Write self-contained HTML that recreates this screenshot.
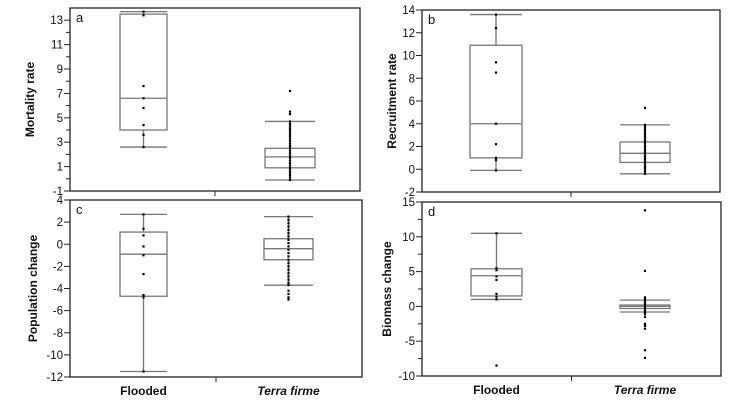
<!DOCTYPE html>
<html><head><meta charset="utf-8"><style>
body{margin:0;background:#fff;width:737px;height:406px;overflow:hidden;font-family:"Liberation Sans",sans-serif}
</style></head><body>
<svg id="c" width="737" height="406"></svg>
<script>
// Panel data
const categories=["Flooded","Terra firme"];
const aStats=[[2.6,4.0,6.6,13.5,13.7],[-0.1,0.9,1.8,2.5,4.7]];
const aPts=[[13.7,13.4,7.6,6.6,5.8,4.4,3.6,2.6],[7.2,5.5,5.3,4.7,4.5,4.3,4.1,3.9,3.7,3.5,3.3,3.1,2.9,2.7,2.5,2.3,2.1,1.9,1.7,1.5,1.3,1.1,0.9,0.7,0.5,0.3,0.1,-0.1]];
const bStats=[[-0.1,1.0,4.0,10.9,13.6],[-0.4,0.6,1.4,2.4,3.9]];
const bPts=[[13.6,12.4,9.4,8.5,4.0,2.2,1.0,0.8,-0.1],[5.4,3.9,3.7,3.5,3.3,3.1,2.9,2.7,2.5,2.3,2.1,1.9,1.7,1.5,1.3,1.1,0.9,0.7,0.5,0.3,0.1,-0.1,-0.3,-0.4]];
const cStats=[[-11.5,-4.7,-0.9,1.1,2.7],[-3.7,-1.4,-0.4,0.5,2.5]];
const cPts=[[2.7,1.4,0.8,-0.2,-1.0,-2.7,-4.6,-4.8,-11.5],[2.5,2.2,1.9,1.6,1.3,1.0,0.7,0.4,0.1,-0.2,-0.5,-0.8,-1.1,-1.4,-1.7,-2.0,-2.3,-2.6,-2.9,-3.2,-3.5,-3.7,-4.2,-4.5,-4.8,-5.0]];
const dStats=[[1.0,1.5,4.4,5.4,10.5],[-0.8,-0.3,0.0,0.2,0.9]];
const dPts=[[10.5,5.5,5.2,4.3,3.8,1.8,1.4,1.0,-8.5],[13.8,5.1,1.3,1.0,0.7,0.4,0.1,-0.2,-0.5,-0.8,-1.1,-1.5,-2.5,-2.8,-3.2,-6.3,-7.4]];
const aTicks=[-1,1,3,5,7,9,11,13];
const bTicks=[-2,0,2,4,6,8,10,12,14];
const cTicks=[-12,-10,-8,-6,-4,-2,0,2,4];
const dTicks=[-10,-5,0,5,10,15];

const svg=document.getElementById('c');
const NS='http://www.w3.org/2000/svg';
function mk(t,a,p){const e=document.createElementNS(NS,t);for(const k in a)e.setAttribute(k,a[k]);(p||svg).appendChild(e);return e;}

const panels=[
 {id:'a',title:'Mortality rate',L:70,R:360,T:8,B:191,min:-1,max:14,ticks:aTicks,minor:1,stats:aStats,pts:aPts,bx:[120,265],bw:[47,50],xlab:false,tx:34},
 {id:'b',title:'Recruitment rate',L:422,R:720,T:10,B:192,min:-2,max:14,ticks:bTicks,minor:0,stats:bStats,pts:bPts,bx:[470,620],bw:[52,50],xlab:false,tx:396},
 {id:'c',title:'Population change',L:70,R:362,T:200,B:377,min:-12,max:4,ticks:cTicks,minor:0,stats:cStats,pts:cPts,bx:[120,264],bw:[47,49],xlab:true,tx:37},
 {id:'d',title:'Biomass change',L:422,R:721,T:202,B:376,min:-10,max:15,ticks:dTicks,minor:2.5,stats:dStats,pts:dPts,bx:[471,620],bw:[51,50],xlab:true,tx:391}
];
panels.forEach(p=>{
 const g=mk('g',{});
 
 
 const y=v=>p.B-(v-p.min)/(p.max-p.min)*(p.B-p.T);
 const fr=mk('rect',{x:p.L,y:p.T,width:p.R-p.L,height:p.B-p.T,fill:'none',stroke:'#222','stroke-width':1.3},g);
 
 
 p.ticks.forEach(t=>{
  mk('line',{x1:p.L-6,x2:p.L,y1:y(t),y2:y(t),stroke:'#222'},g);
  const tx=mk('text',{x:p.L-7,y:y(t)+4,'text-anchor':'end','font-size':11.5,fill:'#111'},g);
  tx.textContent=t;
  
  
  if(p.minor){const m=t+p.minor;if(m<p.max)mk('line',{x1:p.L-4,x2:p.L,y1:y(m),y2:y(m),stroke:'#222'},g);}
 });
 const mid=(p.L+p.R)/2;
 mk('line',{x1:mid,x2:mid,y1:p.B,y2:p.B+5,stroke:'#222'},g);
 const lt=mk('text',{x:p.L+6,y:p.T+14,'font-size':13,fill:'#111'},g);lt.textContent=p.id;
 
 
 const cy=(p.T+p.B)/2,cx=p.tx;
 const at=mk('text',{x:cx,y:cy,transform:`rotate(-90 ${cx} ${cy})`,'text-anchor':'middle','font-size':12,'font-weight':'bold',fill:'#111'},g);
 at.textContent=p.title;
 
 
 p.stats.forEach((s,i)=>{
  const x0=p.bx[i],w=p.bw[i],xc=x0+w/2;
  const st={stroke:'#777','stroke-width':1.3,fill:'none'};
  mk('line',Object.assign({x1:xc,x2:xc,y1:y(s[0]),y2:y(s[1])},st),g);
  mk('line',Object.assign({x1:xc,x2:xc,y1:y(s[3]),y2:y(s[4])},st),g);
  mk('line',Object.assign({x1:x0,x2:x0+w,y1:y(s[0]),y2:y(s[0])},st),g);
  mk('line',Object.assign({x1:x0,x2:x0+w,y1:y(s[4]),y2:y(s[4])},st),g);
  const bx=mk('rect',Object.assign({x:x0,y:y(s[3]),width:w,height:y(s[1])-y(s[3])},st),g);
  
  
  mk('line',Object.assign({x1:x0,x2:x0+w,y1:y(s[2]),y2:y(s[2])},st),g);
  p.pts[i].forEach(v=>{
   const pt=mk('rect',{x:xc-1.1,y:y(v)-1.1,width:2.2,height:2.2,fill:'#000'},g);
   
   
  });
  if(p.xlab){
   const xl=mk('text',{x:xc,y:p.B+18,'text-anchor':'middle','font-size':12,'font-weight':'bold','font-style':i?'italic':'normal',fill:'#111'},g);
   xl.textContent=categories[i];
   
   
  }
 });
});
</script>
</body></html>
